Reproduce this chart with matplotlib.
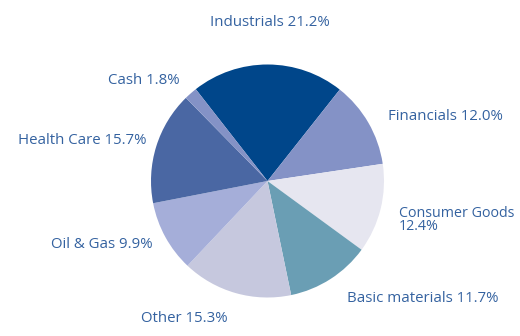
import matplotlib.pyplot as plt

# sector weights, clockwise from the top-left
sectors = ['Industrials', 'Financials', 'Consumer Goods', 'Basic materials',
           'Other', 'Oil & Gas', 'Health Care', 'Cash']
weights = [21.2, 12.0, 12.4, 11.7, 15.3, 9.9, 15.7, 1.8]
colors = ['#00468a', '#8492c6', '#e6e6f0', '#6a9eb4',
          '#c6c8de', '#a5aed9', '#4a67a3', '#8492c6']

# label anchor (x, y from top, ha) in pixel space
label_pos = {
    'Industrials': (270, 23, 'center'),
    'Financials': (388, 117, 'left'),
    'Consumer Goods': (399, 220, 'left'),
    'Basic materials': (347, 298, 'left'),
    'Other': (184, 318, 'center'),
    'Oil & Gas': (153, 244, 'right'),
    'Health Care': (146, 140, 'right'),
    'Cash': (180, 80, 'right'),
}
text_color = '#3462a0'
H = 336

fig = plt.figure(figsize=(5.2, 3.36), dpi=100)
ax = fig.add_axes([0, 0, 1, 1])

ax.pie(weights, colors=colors, startangle=128, counterclock=False,
       center=(267.5, H - 181), radius=116.5,
       wedgeprops={'linewidth': 0})
ax.set_xlim(0, 520)
ax.set_ylim(0, H)
ax.set_aspect('equal')
ax.axis('off')

for name, w in zip(sectors, weights):
    x, y, ha = label_pos[name]
    size = 10.8
    if name == 'Consumer Goods':
        txt = f'{name}\n{w:.1f}%'
        size = 10.3
    else:
        txt = f'{name} {w:.1f}%'
    ax.text(x, H - y, txt, ha=ha, va='center', color=text_color,
            fontsize=size, family='Open Sans', linespacing=0.9)

fig.savefig('out.png', dpi=100, facecolor='white')
